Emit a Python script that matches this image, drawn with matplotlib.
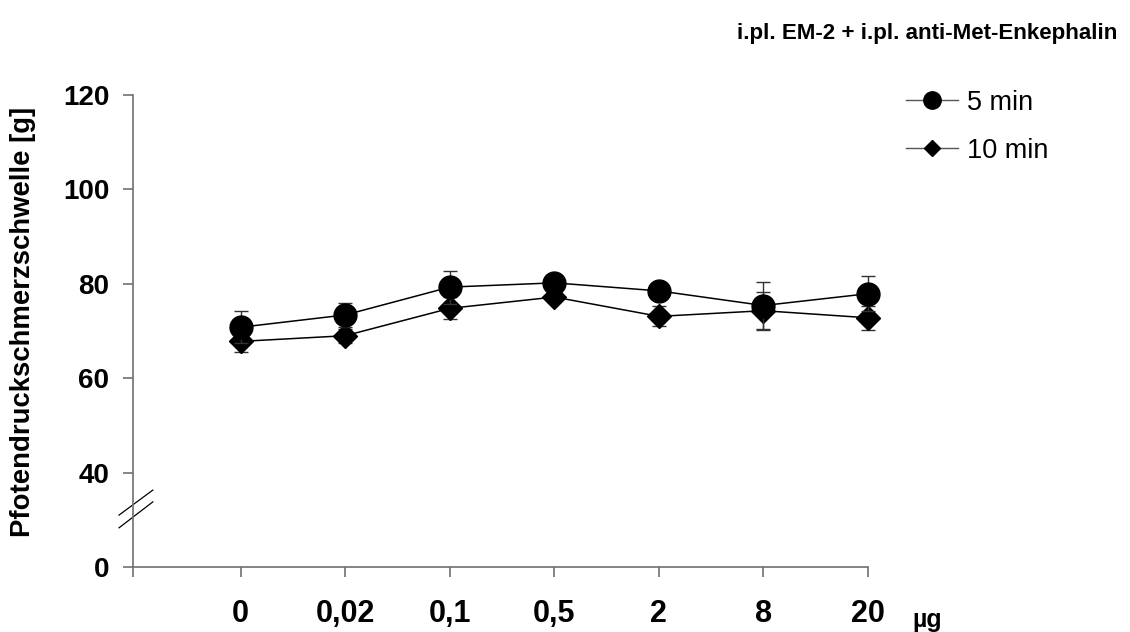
import matplotlib
matplotlib.use("Agg")
import matplotlib.pyplot as plt
from matplotlib.lines import Line2D

plt.rcParams["font.family"] = ["Liberation Sans", "DejaVu Sans"]

# data
doses = ["0", "0,02", "0,1", "0,5", "2", "8", "20"]
min5 = [70.8, 73.4, 79.3, 80.2, 78.5, 75.4, 77.9]
min5_err = [3.4, 2.5, 3.5, 1.5, 1.5, 5.0, 3.7]
min10 = [67.8, 69.0, 74.8, 77.2, 73.1, 74.3, 72.8]
min10_err = [2.2, 1.5, 2.3, 1.0, 2.1, 4.0, 2.6]

y_ticks = [20, 40, 60, 80, 100, 120]      # 20 is drawn as "0" (broken axis)
y_ticklabels = ["0", "40", "60", "80", "100", "120"]

AXIS = "#707070"
INK = "black"

fig = plt.figure(figsize=(11.3, 6.32), dpi=100)
ax = fig.add_axes([133 / 1130, 1 - 567 / 632, 735 / 1130, 472 / 632])

x = list(range(len(doses)))
ax.errorbar(x, min10, yerr=min10_err, color=INK, lw=1.1, marker="D", ms=12.5,
            ecolor="#333333", elinewidth=1.0, capsize=5, capthick=1.0,
            zorder=3, clip_on=False)
ax.errorbar(x, min5, yerr=min5_err, color=INK, lw=1.1, marker="o", ms=16.5,
            ecolor="#333333", elinewidth=1.0, capsize=5, capthick=1.0,
            zorder=4, clip_on=False)

ax.set_xlim(-1.03, len(doses) - 1)
ax.set_ylim(20, 120)
ax.set_xticks([-1.03] + x)
ax.set_xticklabels([""] + doses, fontsize=22, fontweight="bold")
ax.set_yticks(y_ticks)
ax.set_yticklabels(y_ticklabels, fontsize=20, fontweight="bold")
ax.tick_params(axis="x", direction="out", length=7, width=1.2, color=AXIS, pad=16)
ax.tick_params(axis="y", direction="out", length=7, width=1.2, color=AXIS, pad=10)
for side in ["top", "right"]:
    ax.spines[side].set_visible(False)
for side in ["left", "bottom"]:
    ax.spines[side].set_color(AXIS)
    ax.spines[side].set_linewidth(1.2)

# axis break marks
tr = ax.get_yaxis_transform()
ax.plot([-0.019, 0.027], [31.0, 36.3], color=INK, lw=0.9, transform=tr, clip_on=False)
ax.plot([-0.019, 0.027], [28.3, 33.8], color=INK, lw=0.9, transform=tr, clip_on=False)

fig.text(23 / 1130, 1 - 322 / 632, "Pfotendruckschmerzschwelle [g]", rotation=90,
         ha="center", va="center", fontsize=19.8, fontweight="bold")
fig.text(927 / 1130, 1 - 620 / 632, "µg", ha="center", va="center",
         fontsize=18, fontweight="bold")
fig.text(1117 / 1130, 1 - 33 / 632, "i.pl. EM-2 + i.pl. anti-Met-Enkephalin",
         ha="right", va="center", fontsize=16.1, fontweight="bold")

handles = [
    Line2D([], [], color="#555555", lw=1.0, marker="o", ms=12.5, mfc=INK, mec=INK),
    Line2D([], [], color="#555555", lw=1.0, marker="D", ms=8.5, mfc=INK, mec=INK),
]
fig.legend(handles, ["5 min", "10 min"], loc="upper left",
           bbox_to_anchor=(892 / 1130, 1 - 76 / 632), frameon=False, fontsize=19.5,
           handlelength=1.93, handletextpad=0.33, labelspacing=0.82, borderpad=0)

fig.savefig("out.png", dpi=100)
